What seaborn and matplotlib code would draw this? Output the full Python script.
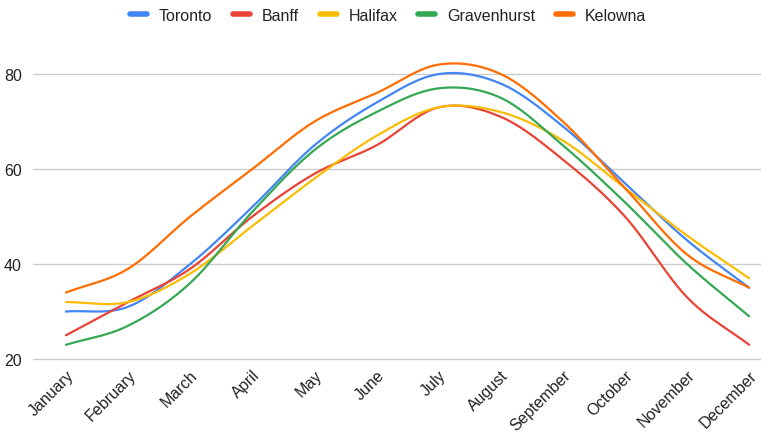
import numpy as np
import pandas as pd
import matplotlib
matplotlib.use("Agg")
import matplotlib.pyplot as plt
import seaborn as sns

MONTHS = ["January", "February", "March", "April", "May", "June",
          "July", "August", "September", "October", "November", "December"]

TORONTO     = [30, 31, 40, 52, 65, 74, 80, 78, 69, 57, 45, 35]
BANFF       = [25, 32, 39, 50, 59, 65, 73, 71, 62, 50, 33, 23]
HALIFAX     = [32, 32, 38, 48, 58, 67, 73, 72, 66, 56, 46, 37]
GRAVENHURST = [23, 27, 36, 51, 64, 72, 77, 75, 65, 53, 40, 29]
KELOWNA     = [34, 39, 50, 60, 70, 76, 82, 80, 70, 56, 42, 35]

CITIES = ["Toronto", "Banff", "Halifax", "Gravenhurst", "Kelowna"]
SERIES = [TORONTO, BANFF, HALIFAX, GRAVENHURST, KELOWNA]
COLORS = ["#4285F4", "#EA4335", "#FBBC04", "#34A853", "#FF6D01"]


# ─────────────────────────────────────────────────────────────────────────────
def smooth_curve(values, steps=24):
    """Hermite (Catmull-Rom style) rendering of a series, like the
    'smooth' line option of the original spreadsheet chart."""
    y = np.asarray(values, dtype=float)
    x = np.arange(len(y), dtype=float)
    m = np.empty_like(y)
    m[1:-1] = (y[2:] - y[:-2]) / 2
    m[0] = y[1] - y[0]
    m[-1] = y[-1] - y[-2]
    xs, ys = [], []
    t = np.linspace(0, 1, steps, endpoint=False)
    h00 = 2 * t**3 - 3 * t**2 + 1
    h10 = t**3 - 2 * t**2 + t
    h01 = -2 * t**3 + 3 * t**2
    h11 = t**3 - t**2
    for i in range(len(y) - 1):
        xs.append(x[i] + t)
        ys.append(h00 * y[i] + h10 * m[i] + h01 * y[i + 1] + h11 * m[i + 1])
    xs.append([x[-1]])
    ys.append([y[-1]])
    return np.concatenate(xs), np.concatenate(ys)


frames = []
for city, vals in zip(CITIES, SERIES):
    sx, sy = smooth_curve(vals)
    frames.append(pd.DataFrame({"x": sx, "temp": sy, "city": city}))
df = pd.concat(frames, ignore_index=True)

sns.set_style("white")
plt.rcParams["font.family"] = ["Liberation Sans", "DejaVu Sans"]

fig = plt.figure(figsize=(7.61, 4.35), dpi=100)
# 20 -> y=360 px, 80 -> y=75 px (4.75 px per degree)
ax = fig.add_axes([0.0434, 0.1669, 0.9566, 0.726])

sns.lineplot(data=df, x="x", y="temp", hue="city", hue_order=CITIES,
             palette=COLORS, linewidth=1.6, sort=False, estimator=None,
             ax=ax)

ax.set_xlim(-0.53, 11.19)
ax.set_ylim(19.5, 86)
ax.set_yticks([20, 40, 60, 80])
ax.set_xticks(range(len(MONTHS)))
ax.set_xticklabels(MONTHS, rotation=45, ha="right", rotation_mode="anchor")
ax.tick_params(axis="both", length=0, labelsize=11.5, colors="#222222")
ax.tick_params(axis="y", pad=8)
ax.tick_params(axis="x", pad=4)
ax.grid(axis="y", color="#cccccc", linewidth=1.0)
ax.grid(axis="x", visible=False)
ax.set_axisbelow(True)
for s in ax.spines.values():
    s.set_visible(False)
ax.set_xlabel("")
ax.set_ylabel("")

sns.move_legend(ax, "center", bbox_to_anchor=(0.51, 0.963),
                bbox_transform=fig.transFigure, ncol=5, frameon=False,
                title=None, fontsize=11.5, handlelength=1.05,
                handletextpad=0.75, columnspacing=1.3)
for h in ax.get_legend().get_lines():
    h.set_linewidth(4)
    h.set_solid_capstyle("round")
for t in ax.get_legend().get_texts():
    t.set_color("#222222")

fig.savefig("out.png", dpi=100)
